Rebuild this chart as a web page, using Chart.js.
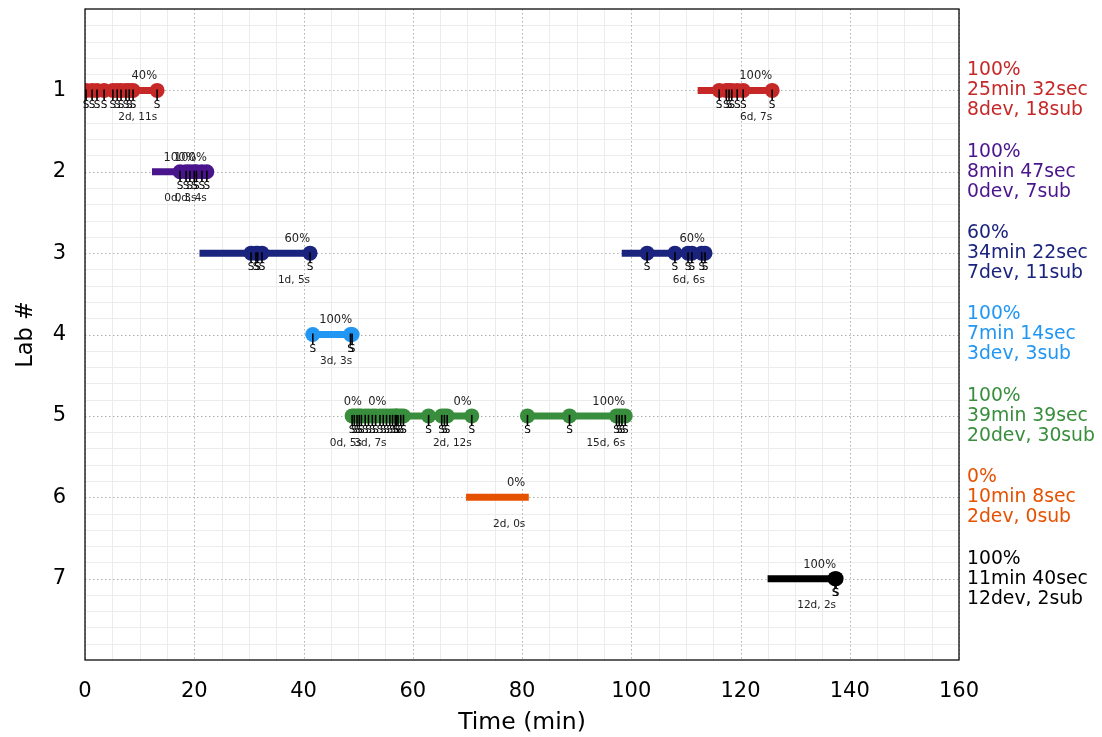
<!DOCTYPE html>
<html><head><meta charset="utf-8">
<script src="https://cdn.jsdelivr.net/npm/chart.js@4.4.1/dist/chart.umd.min.js"></script>
<style>html,body{margin:0;padding:0;background:#fff}canvas{display:block}</style>
</head><body>
<canvas id="c" width="1102" height="737"></canvas>
<script>
// ---- data ----
const labs = [1, 2, 3, 4, 5, 6, 7];
const labColors = ['#c62828', '#4a148c', '#1a237e', '#2196f3', '#388e3c', '#e65100', '#000000'];
const labPct = [100, 100, 60, 100, 100, 0, 100];
const labMin = [25, 8, 34, 7, 39, 10, 11];
const labSec = [32, 47, 22, 14, 39, 8, 40];
const labDev = [8, 0, 7, 3, 20, 2, 12];
const labSub = [18, 7, 11, 3, 30, 0, 2];

const sessionLab   = [1, 1, 2, 2, 3, 3, 4, 5, 5, 5, 5, 6, 7];
const sessionStart = [0, 112.8, 12.9, 18.8, 21.6, 98.9, 41.7, 48.8, 51.0, 55.5, 80.9, 70.4, 125.6];
const sessionEnd   = [13.2, 125.8, 20.4, 22.3, 41.2, 113.5, 48.9, 50.7, 55.2, 70.8, 98.9, 80.6, 137.5];
const sessionPct   = [40, 100, 100, 100, 60, 60, 100, 0, 0, 0, 100, 0, 100];
const sessionDev   = [2, 6, 0, 0, 1, 6, 3, 0, 3, 2, 15, 2, 12];
const sessionSubs  = [
  [0.2, 1.3, 2.2, 3.5, 5.1, 5.9, 6.6, 7.5, 8.1, 8.8, 13.2],
  [116.1, 117.4, 117.9, 118.4, 119.4, 120.5, 125.8],
  [17.4, 18.5, 20.4],
  [19.2, 20.0, 21.4, 22.3],
  [30.4, 31.3, 31.6, 32.4, 41.2],
  [102.9, 108.0, 110.4, 111.1, 112.9, 113.5],
  [41.7, 48.6, 48.9],
  [48.9, 49.3, 49.8, 50.2, 50.6],
  [51.3, 51.9, 52.6, 53.2, 54.0, 54.6, 55.2],
  [55.8, 56.3, 56.8, 57.0, 57.3, 57.8, 58.3, 62.9, 65.3, 65.8, 66.3, 70.8],
  [81.0, 88.7, 97.3, 97.8, 98.3, 98.9],
  [],
  [137.3, 137.5]
];
const xTicks = [0, 20, 40, 60, 80, 100, 120, 140, 160];
const yTicks = [1, 2, 3, 4, 5, 6, 7];

const FONT = "'DejaVu Sans', sans-serif";

// ---- datasets built from the arrays ----
const datasets = [];
sessionLab.forEach((lab, i) => {
  const col = labColors[lab - 1];
  datasets.push({
    type: 'line', order: 2,
    data: [{x: sessionStart[i], y: lab}, {x: sessionEnd[i], y: lab}],
    borderColor: col, borderWidth: 7, borderCapStyle: 'square',
    pointRadius: 0, clip: 0, showLine: true
  });
  if (sessionSubs[i].length) {
    datasets.push({
      type: 'scatter', order: 1,
      data: sessionSubs[i].map(t => ({x: t, y: lab})),
      backgroundColor: col, borderWidth: 0, pointRadius: 7.5, pointHoverRadius: 7.5, clip: 0
    });
  }
});

const overlay = {
  id: 'overlay',
  beforeDatasetsDraw(chart) {
    const {ctx, chartArea: a, scales: {x, y}} = chart;
    ctx.save();
    // minor grid
    ctx.strokeStyle = '#ececec'; ctx.lineWidth = 1;
    for (let v = 0; v <= 160; v += 5) {
      if (v % 20 === 0) continue;
      const px = Math.round(x.getPixelForValue(v)) + 0.5;
      ctx.beginPath(); ctx.moveTo(px, a.top); ctx.lineTo(px, a.bottom); ctx.stroke();
    }
    for (let v = 0; v <= 8.001; v += 0.2) {
      if (Math.abs(v - Math.round(v)) < 1e-6) continue;
      const py = Math.round(y.getPixelForValue(v)) + 0.5;
      ctx.beginPath(); ctx.moveTo(a.left, py); ctx.lineTo(a.right, py); ctx.stroke();
    }
    // major grid (dotted)
    ctx.strokeStyle = '#b0b0b0'; ctx.setLineDash([1.5, 2.5]);
    xTicks.forEach(v => {
      const px = Math.round(x.getPixelForValue(v)) + 0.5;
      ctx.beginPath(); ctx.moveTo(px, a.top); ctx.lineTo(px, a.bottom); ctx.stroke();
    });
    yTicks.forEach(v => {
      const py = Math.round(y.getPixelForValue(v)) + 0.5;
      ctx.beginPath(); ctx.moveTo(a.left, py); ctx.lineTo(a.right, py); ctx.stroke();
    });
    ctx.restore();
  },
  afterDatasetsDraw(chart) {
    const {ctx, chartArea: a, scales: {x, y}} = chart;
    ctx.save();
    ctx.textAlign = 'center'; ctx.textBaseline = 'middle';
    sessionLab.forEach((lab, i) => {
      const py = y.getPixelForValue(lab);
      // submission ticks + S
      sessionSubs[i].forEach(t => {
        const px = x.getPixelForValue(t);
        ctx.strokeStyle = '#000'; ctx.lineWidth = 1.6;
        ctx.beginPath(); ctx.moveTo(px, py - 1); ctx.lineTo(px, py + 10); ctx.stroke();
        ctx.fillStyle = '#000'; ctx.font = `10.5px ${FONT}`; ctx.textAlign = 'center';
        ctx.fillText('S', px, py + 14.5);
      });
      const ex = x.getPixelForValue(sessionEnd[i]);
      ctx.fillStyle = '#222'; ctx.textAlign = 'right';
      ctx.font = `11.5px ${FONT}`;
      ctx.fillText(sessionPct[i] + '%', ex, py - 14);
      ctx.font = `10.5px ${FONT}`;
      ctx.fillText(sessionDev[i] + 'd, ' + sessionSubs[i].length + 's', ex, py + 27);
    });
    ctx.restore();
  },
  afterDraw(chart) {
    const {ctx, chartArea: a, scales: {y}} = chart;
    ctx.save();
    // frame
    ctx.strokeStyle = '#000'; ctx.lineWidth = 1.25;
    ctx.strokeRect(a.left, a.top, a.right - a.left, a.bottom - a.top);
    // right summary labels
    ctx.font = `18.8px ${FONT}`; ctx.textAlign = 'left'; ctx.textBaseline = 'middle';
    labs.forEach((lab, i) => {
      const py = y.getPixelForValue(lab);
      ctx.fillStyle = labColors[i];
      const lines = [labPct[i] + '%', labMin[i] + 'min ' + labSec[i] + 'sec', labDev[i] + 'dev, ' + labSub[i] + 'sub'];
      lines.forEach((s, k) => ctx.fillText(s, a.right + 8, py + (k - 1) * 20));
    });
    ctx.restore();
  }
};

new Chart(document.getElementById('c'), {
  type: 'scatter',
  data: {datasets},
  options: {
    responsive: false, animation: false,
    layout: {padding: {top: 9, right: 143, left: 0, bottom: 0}},
    plugins: {legend: {display: false}, tooltip: {enabled: false}},
    scales: {
      x: {
        type: 'linear', min: 0, max: 160,
        afterBuildTicks: s => { s.ticks = xTicks.map(v => ({value: v})); },
        ticks: {color: '#000', font: {family: FONT, size: 21}, padding: 19, maxRotation: 0},
        grid: {display: false, drawTicks: false},
        border: {display: false},
        title: {display: true, text: 'Time (min)', color: '#000', font: {family: FONT, size: 23.5}, padding: {top: 0, bottom: 0}},
        afterFit: s => { s.height = 77; s.paddingLeft = 0; s.paddingRight = 0; }
      },
      y: {
        type: 'linear', min: 0, max: 8, reverse: true,
        afterBuildTicks: s => { s.ticks = yTicks.map(v => ({value: v})); },
        ticks: {color: '#000', font: {family: FONT, size: 21}, padding: 19},
        grid: {display: false, drawTicks: false},
        border: {display: false},
        title: {display: true, text: 'Lab #', color: '#000', font: {family: FONT, size: 22.5}, padding: {top: 13, bottom: 0}},
        afterFit: s => { s.width = 85; s.paddingTop = 0; s.paddingBottom = 0; }
      }
    }
  },
  plugins: [overlay]
});
</script>
</body></html>
